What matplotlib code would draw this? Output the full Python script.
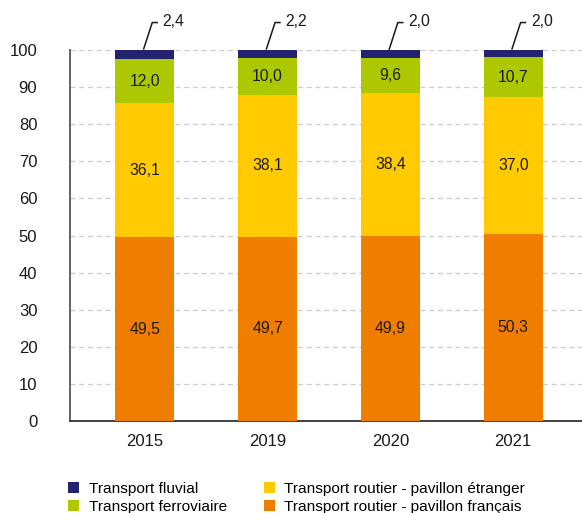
import matplotlib
matplotlib.use("Agg")
import matplotlib.pyplot as plt
import numpy as np

plt.rcParams['font.family'] = ['Liberation Sans', 'DejaVu Sans']

# données
annees = ["2015", "2019", "2020", "2021"]
francais = [49.5, 49.7, 49.9, 50.3]
etranger = [36.1, 38.1, 38.4, 37.0]
ferroviaire = [12.0, 10.0, 9.6, 10.7]
fluvial = [2.4, 2.2, 2.0, 2.0]

series = [
    ("Transport routier - pavillon français", francais, "#ef7d00"),
    ("Transport routier - pavillon étranger", etranger, "#ffcb00"),
    ("Transport ferroviaire", ferroviaire, "#adc800"),
    ("Transport fluvial", fluvial, "#23226f"),
]

fig = plt.figure(figsize=(5.82, 5.13), dpi=100)
ax = fig.add_axes([70 / 582, 1 - 421 / 513, 512 / 582, 371 / 513])

x = np.arange(len(annees))
bottom = np.zeros(len(annees))
bars = {}
for nom, vals, col in series:
    vals = np.array(vals)
    bars[nom] = ax.bar(x, vals, 0.48, bottom=bottom, color=col, zorder=3)
    if nom != "Transport fluvial":
        for xi, b, v in zip(x, bottom, vals):
            ax.text(xi, b + v / 2, f"{v:.1f}".replace(".", ","), ha="center",
                    va="center", fontsize=11.3, color="#1a1a1a", zorder=4)
    else:
        # étiquettes au-dessus avec trait de rappel
        for xi, b, v in zip(x, bottom, vals):
            top = b + v
            ax.plot([xi - 0.01, xi + 0.06, xi + 0.1], [top + 0.3, 107.4, 107.4],
                    color="#1a1a1a", lw=1.1, clip_on=False, zorder=4)
            ax.text(xi + 0.145, 107.6, f"{v:.1f}".replace(".", ","), ha="left",
                    va="center", fontsize=11.3, color="#1a1a1a", clip_on=False)
    bottom = bottom + vals

ax.set_xlim(-0.61, 3.56)
ax.set_ylim(0, 100)
ax.set_yticks(range(0, 101, 10))
ax.set_xticks(x)
ax.set_xticklabels(annees)
ax.tick_params(axis="y", length=0, pad=23.5, labelsize=12, labelcolor="#1a1a1a")
ax.tick_params(axis="x", length=0, pad=9, labelsize=12, labelcolor="#1a1a1a")

ax.yaxis.grid(True, linestyle=(0, (4, 3)), color="#cccccc", lw=0.9, zorder=0)
ax.set_axisbelow(True)
for s in ["top", "right"]:
    ax.spines[s].set_visible(False)
ax.spines["left"].set_color("#555555")
ax.spines["bottom"].set_color("#333333")
ax.spines["left"].set_linewidth(1.3)
ax.spines["bottom"].set_linewidth(1.3)

ordre = ["Transport fluvial", "Transport ferroviaire",
         "Transport routier - pavillon étranger", "Transport routier - pavillon français"]
fig.legend([bars[n] for n in ordre], ordre, ncol=2, loc="upper left",
           bbox_to_anchor=(68 / 582, 1 - 482 / 513), frameon=False, fontsize=11.1,
           handlelength=0.74, handleheight=0.74, handletextpad=0.6,
           columnspacing=2.4, labelspacing=0.24, borderpad=0, borderaxespad=0)

fig.savefig("out.png", dpi=100)
